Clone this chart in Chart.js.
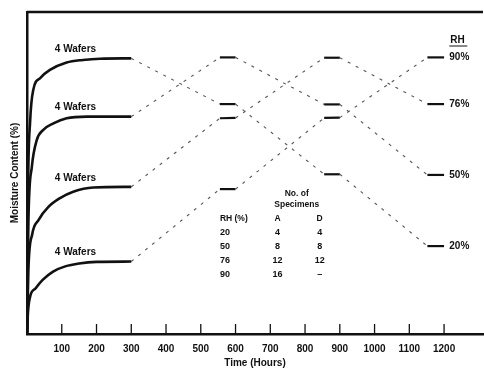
<!DOCTYPE html>
<html>
<head>
<meta charset="utf-8">
<script src="https://cdn.jsdelivr.net/npm/chart.js@4.4.1/dist/chart.umd.min.js"></script>
<style>
  html, body { margin: 0; padding: 0; background: #fff; }
  #wrap { width: 484px; height: 368px; }
</style>
</head>
<body>
<div id="wrap"><canvas id="myChart" width="484" height="368"></canvas></div>
<script>
// conditioning curves, 0 - 300 hours (4 wafers each)
const curveHours20 = [0, 3, 9, 25, 45, 75, 110, 150, 200, 300];
const curveMoist20 = [0, 7, 11.6, 14.2, 16.8, 19.4, 21.0, 21.9, 22.4, 22.5];
const curveHours50 = [0, 4, 15, 33, 61, 95, 133, 191, 300];
const curveMoist50 = [0, 20, 31, 35.4, 39.4, 42.2, 44.2, 45.5, 45.7];
const curveHours76 = [0, 4, 14, 28, 47, 76, 114, 172, 300];
const curveMoist76 = [0, 35, 52, 60.2, 63.4, 65.4, 67.0, 67.5, 67.5];
const curveHours90 = [0, 3, 9, 18, 38, 66, 114, 161, 210, 300];
const curveMoist90 = [0, 45, 66, 75.8, 79.5, 82.0, 84.3, 85.1, 85.5, 85.6];

// after 300 h the groups are moved from one humidity to the next
const moveHours = [300, 555, 600, 855, 900, 1152, 1200];
const move20 = [22.5, 45.0, 45.0, 67.1, 67.2, 85.9, 85.9];
const move50 = [45.7, 67.0, 67.1, 85.8, 85.8, 71.4, 71.4];
const move76 = [67.5, 85.9, 85.9, 71.3, 71.3, 49.4, 49.4];
const move90 = [85.6, 71.4, 71.4, 49.6, 49.6, 27.3, 27.3];

const xTickLabels = [100, 200, 300, 400, 500, 600, 700, 800, 900, 1000, 1100, 1200];
const rhLabels = ['90%', '76%', '50%', '20%'];
const rhFinal = [move20[6], move50[6], move76[6], move90[6]];
const waferLabel = '4 Wafers';

const tableRH = ['20', '50', '76', '90'];
const tableA = ['4', '8', '12', '16'];
const tableD = ['4', '8', '12', '\u2013'];

const FONT = "'Liberation Sans', Arial, sans-serif";

function pts(xs, ys) {
    return xs.map(function (t, i) { return { x: t, y: ys[i] }; });
}

function isMove(ctx) {
    return ctx.p1.parsed.x - ctx.p0.parsed.x > 150;
}

function curveSet(xs, ys) {
    return {
        data: pts(xs, ys),
        borderColor: '#111',
        borderWidth: 2.6,
        cubicInterpolationMode: 'monotone',
        pointRadius: 0
    };
}

function moveSet(ys) {
    return {
        data: pts(moveHours, ys),
        borderColor: '#111',
        tension: 0,
        pointRadius: 0,
        segment: {
            borderDash: ctx => isMove(ctx) ? [3, 6] : undefined,
            borderWidth: ctx => isMove(ctx) ? 1.1 : 2.2,
            borderColor: ctx => isMove(ctx) ? '#555' : '#111'
        }
    };
}

const extras = {
    id: 'extras',
    afterDraw(chart) {
        const ctx = chart.ctx;
        const xs = chart.scales.x;
        const ys = chart.scales.y;
        const area = chart.chartArea;
        ctx.save();

        // top frame line
        ctx.strokeStyle = '#111';
        ctx.lineWidth = 2.5;
        ctx.beginPath();
        ctx.moveTo(area.left, area.top);
        ctx.lineTo(area.right, area.top);
        ctx.stroke();

        // tick marks point inward
        ctx.lineWidth = 1.3;
        xTickLabels.forEach(function (v) {
            const px = xs.getPixelForValue(v);
            ctx.beginPath();
            ctx.moveTo(px, area.bottom);
            ctx.lineTo(px, area.bottom - 10);
            ctx.stroke();
        });

        ctx.fillStyle = '#111';
        ctx.textBaseline = 'middle';

        // "4 Wafers" over each conditioning curve
        ctx.font = 'bold 10px ' + FONT;
        ctx.textAlign = 'left';
        [curveMoist90, curveMoist76, curveMoist50, curveMoist20].forEach(function (c) {
            const py = ys.getPixelForValue(c[c.length - 1]) - 9;
            ctx.fillText(waferLabel, xs.getPixelForValue(80), py);
        });

        // RH labels on the right
        const lx = xs.getPixelForValue(1215);
        ctx.font = 'bold 10px ' + FONT;
        ctx.fillText('RH', lx + 1, area.top + 28);
        ctx.lineWidth = 1;
        ctx.beginPath();
        ctx.moveTo(lx, area.top + 34);
        ctx.lineTo(lx + 18, area.top + 34);
        ctx.stroke();
        rhLabels.forEach(function (lab, i) {
            ctx.fillText(lab, lx, ys.getPixelForValue(rhFinal[i]));
        });

        // specimen table
        const cRH = xs.getPixelForValue(555);
        const cA = xs.getPixelForValue(721);
        const cD = xs.getPixelForValue(842);
        const cHead = xs.getPixelForValue(776);
        const rowTop = area.top + 207;
        ctx.font = 'bold 8.5px ' + FONT;
        ctx.textAlign = 'center';
        ctx.fillText('No. of', cHead, area.top + 182);
        ctx.fillText('Specimens', cHead, area.top + 193);
        ctx.textAlign = 'left';
        ctx.fillText('RH (%)', cRH, rowTop);
        ctx.textAlign = 'center';
        ctx.fillText('A', cA, rowTop);
        ctx.fillText('D', cD, rowTop);
        ctx.font = 'bold 9px ' + FONT;
        tableRH.forEach(function (rh, i) {
            const py = rowTop + 13.8 * (i + 1);
            ctx.textAlign = 'left';
            ctx.fillText(rh, cRH, py);
            ctx.textAlign = 'center';
            ctx.fillText(tableA[i], cA, py);
            ctx.fillText(tableD[i], cD, py);
        });

        ctx.restore();
    }
};

const chartCtx = document.getElementById('myChart').getContext('2d');
const myChart = new Chart(chartCtx, {
    type: 'line',
    data: {
        datasets: [
            curveSet(curveHours20, curveMoist20),
            curveSet(curveHours50, curveMoist50),
            curveSet(curveHours76, curveMoist76),
            curveSet(curveHours90, curveMoist90),
            moveSet(move20),
            moveSet(move50),
            moveSet(move76),
            moveSet(move90)
        ]
    },
    options: {
        responsive: false,
        animation: false,
        devicePixelRatio: 1,
        layout: { padding: { top: 12, right: -8, left: 0, bottom: 0 } },
        plugins: {
            legend: { display: false },
            tooltip: { enabled: false }
        },
        scales: {
            x: {
                type: 'linear',
                min: 0,
                max: 1312,
                afterFit: function (s) { s.height = 34; },
                grid: { display: false },
                border: { display: true, color: '#111', width: 2.5 },
                ticks: {
                    stepSize: 100,
                    autoSkip: false,
                    maxRotation: 0,
                    padding: 1,
                    color: '#111',
                    font: { family: FONT, size: 10, weight: 'bold' },
                    callback: v => xTickLabels.includes(v) ? String(v) : ''
                },
                title: {
                    display: true,
                    text: 'Time (Hours)',
                    color: '#111',
                    font: { family: FONT, size: 10, weight: 'bold', lineHeight: 1 },
                    padding: { top: 0, bottom: 0 }
                }
            },
            y: {
                min: 0,
                max: 100,
                afterFit: function (s) { s.width = 27; },
                grid: { display: false },
                border: { display: true, color: '#111', width: 2.5 },
                ticks: { display: false },
                title: {
                    display: true,
                    text: 'Moisture Content (%)',
                    color: '#111',
                    font: { family: FONT, size: 10, weight: 'bold', lineHeight: 1.2 },
                    padding: { top: 9, bottom: 0 }
                }
            }
        }
    },
    plugins: [extras]
});
</script>
</body>
</html>
